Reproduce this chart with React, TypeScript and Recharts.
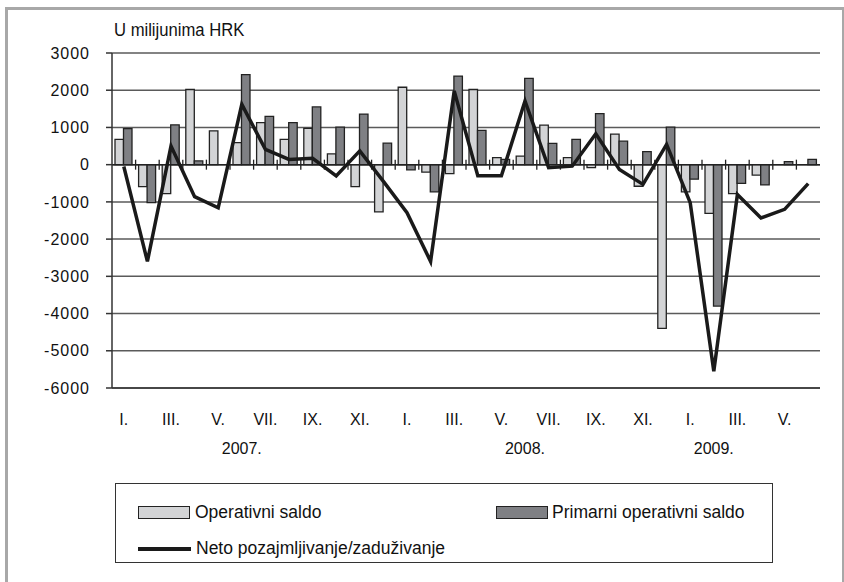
import React from 'react';
import { ComposedChart, Bar, Line, XAxis, YAxis, CartesianGrid, ReferenceLine } from 'recharts';

const periods = [
  '2007-01','2007-02','2007-03','2007-04','2007-05','2007-06','2007-07','2007-08','2007-09','2007-10','2007-11','2007-12',
  '2008-01','2008-02','2008-03','2008-04','2008-05','2008-06','2008-07','2008-08','2008-09','2008-10','2008-11','2008-12',
  '2009-01','2009-02','2009-03','2009-04','2009-05','2009-06',
];
const monthLabels = [
  'I.','','III.','','V.','','VII.','','IX.','','XI.','',
  'I.','','III.','','V.','','VII.','','IX.','','XI.','',
  'I.','','III.','','V.','',
];
const yearLabels = [
  '','','','','','2007.','','','','','','',
  '','','','','','2008.','','','','','','',
  '','2009.','','','','',
];
const operativniSaldo = [
  680, -590, -780, 2020, 910, 590, 1130, 680, 975, 290, -590, -1270,
  2080, -200, -240, 2020, 190, 230, 1060, 190, -80, 820, -580, -4400,
  -730, -1310, -780, -280, 0, 0,
];
const primarniSaldo = [
  970, -1020, 1070, 100, 0, 2420, 1300, 1130, 1550, 1010, 1360, 580,
  -140, -730, 2380, 920, 140, 2320, 570, 680, 1370, 630, 350, 1010,
  -390, -3800, -500, -545, 80, 140,
];
const netoPozajmljivanje = [
  -50, -2600, 500, -860, -1160, 1620, 410, 140, 170, -300, 370, -450,
  -1290, -2600, 1980, -300, -300, 1710, -80, -40, 830, -130, -530, 545,
  -1020, -5550, -800, -1430, -1200, -510,
];
const yTicks = [3000, 2000, 1000, 0, -1000, -2000, -3000, -4000, -5000, -6000];

const data = periods.map((p, i) => ({
  p,
  op: operativniSaldo[i],
  prim: primarniSaldo[i],
  neto: netoPozajmljivanje[i],
}));

const LIGHT = '#d3d4d6';
const DARK = '#7f8084';
const sans = '"Liberation Sans", Arial, sans-serif';

const XTick = (props: any) => {
  const { x, y, index } = props;
  const m = monthLabels[index] || '';
  const yr = yearLabels[index] || '';
  return (
    <g>
      {m && (
        <text x={x} y={y + 29} textAnchor="middle" fontFamily={sans} fontSize={16} fill="#111">{m}</text>
      )}
      {yr && (
        <text x={x} y={y + 58} textAnchor="middle" fontFamily={sans} fontSize={16} fill="#111">{yr}</text>
      )}
    </g>
  );
};

const ZeroLine = (props: any) => {
  const { x1, x2, y1 } = props;
  const n = periods.length;
  const step = (x2 - x1) / n;
  const ticks = [];
  for (let i = 1; i < n; i++) {
    const tx = x1 + step * i;
    ticks.push(<line key={i} x1={tx} x2={tx} y1={y1 - 5} y2={y1 + 5} stroke="#222" strokeWidth={1.3} />);
  }
  return (
    <g>
      {ticks}
      <line x1={x1} x2={x2} y1={y1} y2={y1} stroke="#222" strokeWidth={1.5} />
    </g>
  );
};

export default function App() {
  return (
    <div style={{ position: 'absolute', left: 0, top: 0, width: 844, height: 582, background: '#fff', overflow: 'hidden' }}>
      <div style={{ position: 'absolute', left: 5, top: 7, width: 834, height: 600, borderTop: '3px solid #a8a8a8', borderLeft: '3px solid #a8a8a8', borderRight: '3px solid #a8a8a8' }} />
      <div style={{ position: 'absolute', left: 114, top: 20, fontFamily: sans, fontSize: 17.5, color: '#111', transform: 'scaleX(0.95)', transformOrigin: 'left' }}>U milijunima HRK</div>
      <div style={{ position: 'absolute', left: 0, top: 0 }}>
        <ComposedChart width={844} height={470} data={data} margin={{ top: 53, right: 24, bottom: 0, left: 0 }} barGap={0} barSize={8.5}>
          <CartesianGrid vertical={false} stroke="#5a5a5a" strokeWidth={1.5} />
          <XAxis dataKey="p" interval={0} height={82} tickLine={false} axisLine={{ stroke: '#333', strokeWidth: 1.5 }} tick={<XTick />} />
          <YAxis
            domain={[-6000, 3000]}
            ticks={yTicks}
            width={112}
            tickSize={6}
            tickMargin={16}
            interval={0}
            axisLine={{ stroke: '#333', strokeWidth: 1.5 }}
            tickLine={{ stroke: '#333', strokeWidth: 1.5 }}
            tick={{ fontFamily: sans, fontSize: 16, fill: '#111', letterSpacing: 1 }}
          />
          <YAxis yAxisId="r" orientation="right" domain={[-6000, 3000]} width={0} tick={false} tickLine={false} axisLine={{ stroke: '#555', strokeWidth: 1.5 }} />
          <ReferenceLine y={0} shape={<ZeroLine />} />
          <Bar dataKey="op" fill={LIGHT} stroke="#222" strokeWidth={1.3} isAnimationActive={false} />
          <Bar dataKey="prim" fill={DARK} stroke="#222" strokeWidth={1.3} isAnimationActive={false} />
          <Line dataKey="neto" type="linear" stroke="#1a1a1a" strokeWidth={3.5} dot={false} isAnimationActive={false} />
        </ComposedChart>
      </div>
      <div style={{ position: 'absolute', left: 115, top: 483, width: 656, height: 78, border: '1.5px solid #333', fontFamily: sans, fontSize: 17.5, color: '#111' }}>
        <div style={{ position: 'absolute', left: 22, top: 18, display: 'flex', alignItems: 'center' }}>
          <span style={{ display: 'inline-block', width: 50, height: 11, background: LIGHT, border: '1.5px solid #222', marginRight: 5 }} />
          <span>Operativni saldo</span>
        </div>
        <div style={{ position: 'absolute', left: 380, top: 18, display: 'flex', alignItems: 'center' }}>
          <span style={{ display: 'inline-block', width: 50, height: 11, background: DARK, border: '1.5px solid #222', marginRight: 4 }} />
          <span>Primarni operativni saldo</span>
        </div>
        <div style={{ position: 'absolute', left: 22, top: 54, display: 'flex', alignItems: 'center' }}>
          <span style={{ display: 'inline-block', width: 53, height: 4, background: '#1a1a1a', marginRight: 5 }} />
          <span>Neto pozajmljivanje/zaduživanje</span>
        </div>
      </div>
    </div>
  );
}
